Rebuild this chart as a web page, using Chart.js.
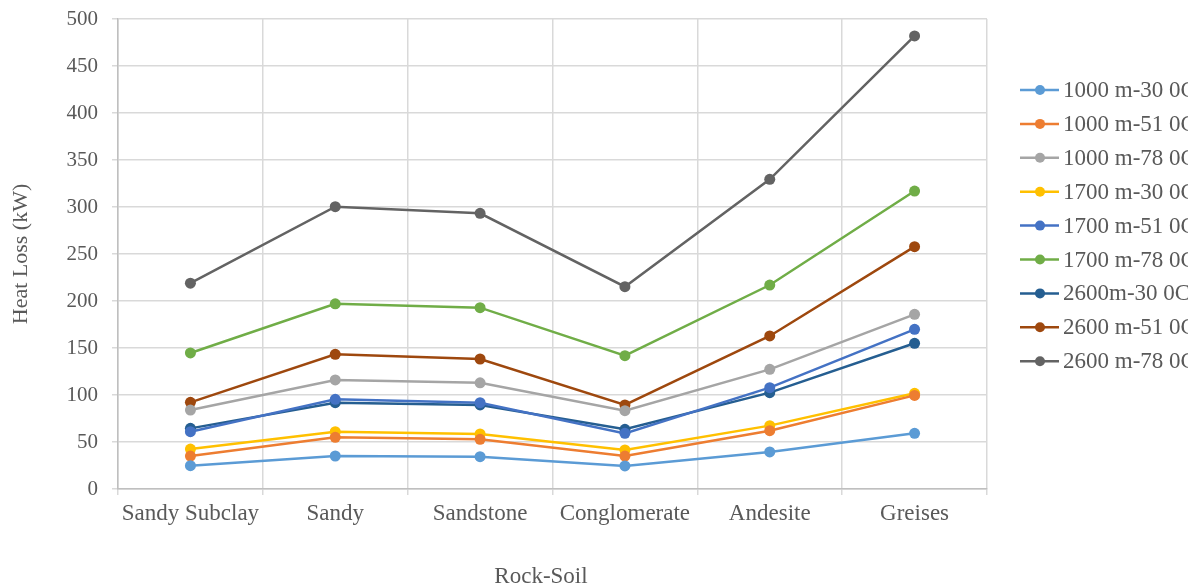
<!DOCTYPE html>
<html>
<head>
<meta charset="utf-8">
<script src="https://cdn.jsdelivr.net/npm/chart.js@4.4.1/dist/chart.umd.min.js"></script>
<style>
  html, body { margin: 0; padding: 0; background: #ffffff; overflow: hidden; }
  #wrap { width: 1201px; height: 588px; position: relative; }
</style>
</head>
<body>
<div id="wrap"><canvas id="chart" width="1201" height="588"></canvas></div>
<script>
// Rock / soil types along the horizontal axis
const categories = ['Sandy Subclay', 'Sandy', 'Sandstone', 'Conglomerate', 'Andesite', 'Greises'];

// Heat loss (kW) per well depth and temperature case
const s1000m30 = [24.8, 35.1, 34.4, 24.5, 39.4, 59.2];
const s1000m51 = [35.0, 55.0, 52.9, 35.0, 62.0, 99.6];
const s1000m78 = [84.0, 116.0, 113.0, 83.3, 127.3, 185.8];
const s1700m30 = [42.5, 61.0, 58.5, 41.5, 67.4, 101.8];
const s1700m51 = [61.0, 95.4, 91.8, 59.2, 107.8, 169.9];
const s1700m78 = [144.7, 197.0, 192.9, 141.8, 217.0, 317.0];
const s2600m30 = [64.5, 91.8, 89.4, 63.5, 102.5, 155.0];
const s2600m51 = [92.2, 143.3, 138.3, 89.4, 162.8, 257.8];
const s2600m78 = [219.0, 300.3, 293.3, 215.2, 329.5, 482.0];

const seriesNames = [
  '1000 m-30 0C', '1000 m-51 0C', '1000 m-78 0C',
  '1700 m-30 0C', '1700 m-51 0C', '1700 m-78 0C',
  '2600m-30 0C', '2600 m-51 0C', '2600 m-78 0C'
];
const seriesValues = [s1000m30, s1000m51, s1000m78, s1700m30, s1700m51, s1700m78, s2600m30, s2600m51, s2600m78];
const seriesColors = ['#5B9BD5', '#ED7D31', '#A5A5A5', '#FFC000', '#4472C4', '#70AD47', '#255E91', '#9E480E', '#636363'];

const yTicks = [0, 50, 100, 150, 200, 250, 300, 350, 400, 450, 500];

const FONT = '"Liberation Serif", "Times New Roman", serif';
const TEXT = '#595959';
const GRID = '#d9d9d9';

// Legend on the right: line + marker + label, cut off at the right edge
const sideLegend = {
  id: 'sideLegend',
  afterDraw(chart) {
    const ctx = chart.ctx;
    ctx.save();
    ctx.beginPath();
    ctx.rect(1000, 0, 188, 588);
    ctx.clip();
    chart.data.datasets.forEach((ds, i) => {
      const y = 90 + i * 33.9;
      ctx.strokeStyle = ds.borderColor;
      ctx.lineWidth = 2.5;
      ctx.beginPath();
      ctx.moveTo(1020, y);
      ctx.lineTo(1059, y);
      ctx.stroke();
      ctx.fillStyle = ds.borderColor;
      ctx.beginPath();
      ctx.arc(1040, y, 5, 0, Math.PI * 2);
      ctx.fill();
      ctx.fillStyle = TEXT;
      ctx.font = '23px ' + FONT;
      ctx.textAlign = 'left';
      ctx.textBaseline = 'middle';
      ctx.fillText(ds.label, 1063, y + 1);
    });
    ctx.restore();

    // horizontal axis title
    ctx.save();
    ctx.fillStyle = TEXT;
    ctx.font = '23px ' + FONT;
    ctx.textAlign = 'center';
    ctx.textBaseline = 'middle';
    ctx.fillText('Rock-Soil', 541, 577);
    ctx.restore();
  }
};

new Chart(document.getElementById('chart'), {
  type: 'line',
  data: {
    labels: categories,
    datasets: seriesNames.map((name, i) => ({
      label: name,
      data: seriesValues[i],
      borderColor: seriesColors[i],
      backgroundColor: seriesColors[i],
      borderWidth: 2.5,
      pointRadius: 5.5,
      pointHoverRadius: 5.5,
      pointBorderWidth: 0,
      tension: 0,
      fill: false
    }))
  },
  options: {
    responsive: false,
    animation: false,
    devicePixelRatio: 1,
    layout: { autoPadding: false, padding: { top: 19, right: 214, left: 0, bottom: 0 } },
    plugins: {
      legend: { display: false },
      tooltip: { enabled: false }
    },
    scales: {
      x: {
        offset: true,
        grid: { offset: true, color: GRID, lineWidth: 1.5, tickLength: 6, drawTicks: true },
        border: { color: '#bfbfbf', width: 1.5 },
        ticks: { color: TEXT, font: { family: FONT, size: 23 }, padding: 5, maxRotation: 0, autoSkip: false },
        afterFit(scale) { scale.height = 99; scale.paddingLeft = 0; scale.paddingRight = 0; }
      },
      y: {
        min: 0,
        max: 500,
        afterBuildTicks(scale) { scale.ticks = yTicks.map(v => ({ value: v })); },
        grid: { color: GRID, lineWidth: 1.5, tickLength: 6, drawTicks: true },
        border: { color: '#bfbfbf', width: 1.5 },
        ticks: { color: TEXT, font: { family: FONT, size: 21 }, padding: 14 },
        title: { display: true, text: 'Heat Loss (kW)', color: TEXT, font: { family: FONT, size: 22 }, padding: { top: 8, bottom: 0 } },
        afterFit(scale) { scale.width = 118; scale.paddingTop = 0; scale.paddingBottom = 0; }
      }
    }
  },
  plugins: [sideLegend]
});
</script>
</body>
</html>
